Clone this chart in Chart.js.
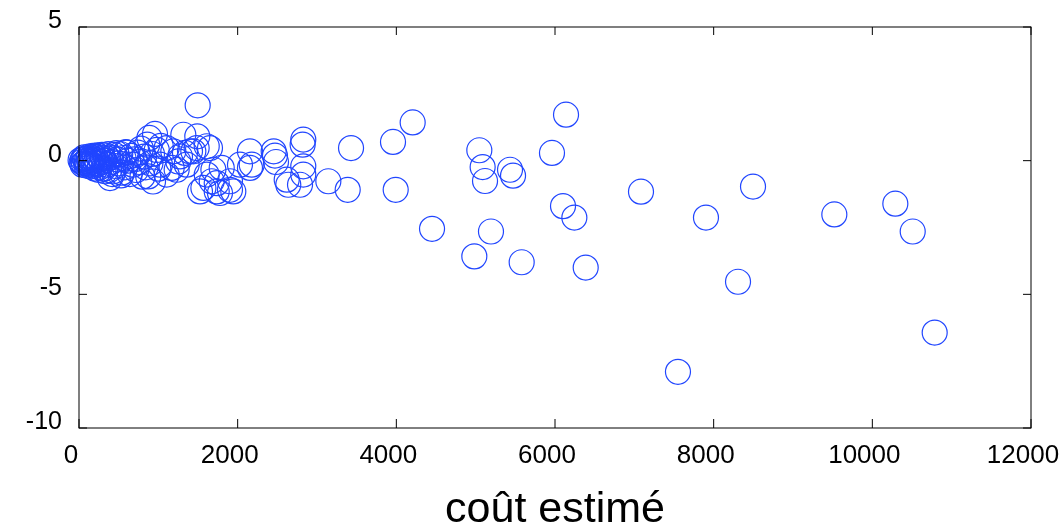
<!DOCTYPE html>
<html>
<head>
<meta charset="utf-8">
<title>coût estimé</title>
<script src="https://cdn.jsdelivr.net/npm/chart.js@4.4.1/dist/chart.umd.min.js"></script>
<style>
  html, body { margin: 0; padding: 0; background: #fff; }
  #wrap { width: 1063px; height: 532px; }
</style>
</head>
<body>
<div id="wrap"><canvas id="grafico"></canvas></div>
<script>
// coût estimé (axe x) et écart (axe y)
const couts = [
  20, 35, 50, 60, 75, 85, 100, 110, 120, 130, 140, 150, 160, 170, 180, 190,
  200, 210, 220, 235, 250, 260, 270, 285, 300, 310, 320, 335, 350, 365, 380, 390,
  400, 410, 430, 445, 460, 480, 500, 520, 540, 560, 580, 600, 620, 640, 660, 680,
  700, 720, 740, 760, 780, 800, 820, 840, 860, 873, 887, 900, 920, 933, 958, 980,
  1000, 1021, 1030,
  45, 65, 95, 125, 145, 175, 205, 230, 255, 290, 330, 370, 420, 470, 530, 590,
  1105, 1105, 1168, 1189, 1231, 1252, 1273, 1315, 1336, 1357, 1399, 1441, 1483, 1491,
  1496, 1525, 1568, 1610, 1610, 1651, 1673, 1694, 1736, 1736, 1777, 1799, 1903, 1903,
  1945, 2029, 2155, 2155, 2177,
  2454, 2470, 2483, 2618, 2638, 2786, 2819, 2827, 2827, 2827, 3143, 3387, 3429,
  3958, 3992, 4206, 4450, 4983, 5046, 5088, 5118, 5193, 5433, 5471, 5580, 5962,
  6101, 6139, 6244, 6387, 7084, 7550, 7903, 8307, 8496, 9521, 10290, 10509, 10786
];
const ecarts = [
  0.02, -0.05, 0.05, -0.1, 0.08, -0.02, 0.0, -0.12, 0.1, -0.06, 0.04, -0.15, 0.12, -0.03, 0.06, -0.2,
  0.15, -0.08, 0.02, -0.12, 0.18, -0.25, 0.05, -0.05, 0.1, -0.3, 0.0, 0.2, -0.15, 0.08, -0.35, -0.65,
  0.12, -0.05, -0.4, 0.22, -0.2, 0.05, -0.1, 0.25, -0.45, 0.1, -0.25, 0.3, 0.0, -0.5, 0.18, -0.15,
  0.05, -0.35, 0.3, -0.05, 0.45, -0.6, 0.15, -0.25, 0.6, -0.59, 0.85, -0.1, 0.25, -0.78, 1.0, 0.4,
  -0.3, -0.15, 0.55,
  -0.15, 0.12, -0.18, 0.15, -0.22, 0.18, -0.3, 0.2, -0.35, 0.22, -0.4, 0.25, -0.5, 0.28, -0.55, 0.32,
  0.47, -0.52, -0.27, 0.35, -0.34, -0.03, 0.16, 0.97, 0.29, -0.15, 0.35, 0.35, 0.47, 0.91,
  2.07, -1.15, -1.02, -0.52, 0.54, 0.47, -0.77, -0.34, -0.84, -1.15, -1.21, -0.27, -1.09, -0.77,
  -1.15, -0.15, 0.35, -0.27, -0.15,
  0.35, 0.19, -0.05, -0.71, -0.9, -0.9, 0.6, 0.79, -0.21, -0.52, -0.77, -1.09, 0.47,
  0.70, -1.09, 1.43, -2.55, -3.58, 0.39, -0.24, -0.76, -2.65, -0.34, -0.56, -3.80, 0.29,
  -1.70, 1.72, -2.13, -4.0, -1.16, -7.9, -2.13, -4.53, -0.97, -2.01, -1.61, -2.65, -6.43
];
const ticksX = [0, 2000, 4000, 6000, 8000, 10000, 12000];
const ticksY = [-10, -5, 0, 5];

const police = "'Liberation Sans', Arial, Helvetica, sans-serif";

// cadre complet + petites graduations vers l'intérieur
const cadre = {
  id: 'cadre',
  afterDatasetsDraw(chart) {
    const { ctx, chartArea: a, scales: { x, y } } = chart;
    ctx.save();
    ctx.strokeStyle = '#000';
    ctx.lineWidth = 1;
    ctx.strokeRect(a.left, a.top, a.right - a.left, a.bottom - a.top);
    ctx.beginPath();
    x.ticks.forEach(t => {
      const px = x.getPixelForValue(t.value);
      ctx.moveTo(px, a.bottom); ctx.lineTo(px, a.bottom - 9);
      ctx.moveTo(px, a.top); ctx.lineTo(px, a.top + 8);
    });
    y.ticks.forEach(t => {
      const py = y.getPixelForValue(t.value);
      ctx.moveTo(a.left, py); ctx.lineTo(a.left + 8, py);
      ctx.moveTo(a.right, py); ctx.lineTo(a.right - 8, py);
    });
    ctx.stroke();
    ctx.restore();
  }
};

new Chart(document.getElementById('grafico'), {
  type: 'scatter',
  data: {
    datasets: [{
      data: couts.map((c, i) => ({ x: c, y: ecarts[i] })),
      pointRadius: 12.5,
      pointHoverRadius: 12.5,
      pointBorderWidth: 1.2,
      borderColor: '#2146ff',
      backgroundColor: 'rgba(0,0,0,0)',
      clip: false
    }]
  },
  options: {
    responsive: true,
    maintainAspectRatio: false,
    animation: false,
    layout: { padding: { top: 27, right: 32, left: 0, bottom: 0 } },
    plugins: { legend: { display: false }, tooltip: { enabled: false } },
    scales: {
      x: {
        type: 'linear',
        min: 0,
        max: 12000,
        afterBuildTicks: s => { s.ticks = ticksX.map(v => ({ value: v })); },
        afterFit: s => { s.height = 104; s.paddingLeft = 0; s.paddingRight = 0; },
        grid: { drawOnChartArea: false, drawTicks: false },
        border: { display: false },
        ticks: {
          color: '#000',
          padding: 12,
          labelOffset: -8,
          maxRotation: 0,
          font: { family: police, size: 26 },
          callback: v => String(v)
        },
        title: {
          display: true,
          text: 'coût estimé',
          color: '#000',
          padding: { top: 0, bottom: 0 },
          font: { family: police, size: 43, lineHeight: 1 }
        }
      },
      y: {
        type: 'linear',
        min: -10,
        max: 5,
        afterBuildTicks: s => { s.ticks = ticksY.map(v => ({ value: v })); },
        afterFit: s => { s.width = 79; s.paddingTop = 0; s.paddingBottom = 0; },
        grid: { drawOnChartArea: false, drawTicks: false },
        border: { display: false },
        ticks: {
          color: '#000',
          padding: 17,
          labelOffset: -6,
          font: { family: police, size: 25 },
          callback: v => String(v)
        }
      }
    }
  },
  plugins: [cadre]
});
</script>
</body>
</html>
